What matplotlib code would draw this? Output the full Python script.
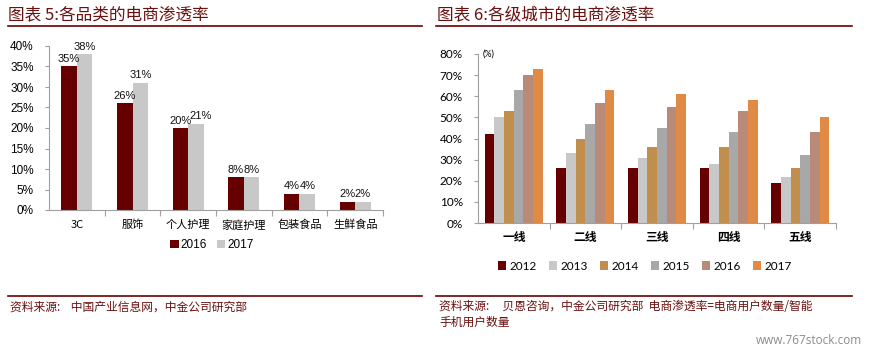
import matplotlib
matplotlib.use("Agg")
import matplotlib.pyplot as plt
from matplotlib.lines import Line2D
from matplotlib.patches import Patch
import numpy as np

plt.rcParams['font.family'] = ['Liberation Sans', 'Noto Sans CJK SC', 'DejaVu Sans']

# ---- Data: left chart ----
cat_left = ['3C', '服饰', '个人护理', '家庭护理', '包装食品', '生鲜食品']
years_left = ['2016', '2017']
v2016 = [35, 26, 20, 8, 4, 2]
v2017 = [38, 31, 21, 8, 4, 2]
yticks_left = [0, 5, 10, 15, 20, 25, 30, 35, 40]

# ---- Data: right chart ----
cat_right = ['一线', '二线', '三线', '四线', '五线']
years_right = ['2012', '2013', '2014', '2015', '2016', '2017']
v2012 = [42, 26, 26, 26, 19]
v2013 = [50, 33, 31, 28, 22]
v2014 = [53, 40, 36, 36, 26]
v2015 = [63, 47, 45, 43, 32]
v2016r = [70, 57, 55, 53, 43]
v2017r = [73, 63, 61, 58, 50]
yticks_right = [0, 10, 20, 30, 40, 50, 60, 70, 80]

W, H = 869, 351
fig = plt.figure(figsize=(W / 100, H / 100), dpi=100)

def fx(px):
    return px / W

def fy(py):
    return 1 - py / H

title_color = '#6b1010'
rule_color = '#6b0000'
cjk = ['Noto Sans CJK SC', 'DejaVu Sans']

# titles and rules
fig.text(fx(8), fy(15), '图表 5:各品类的电商渗透率', fontsize=12, color=title_color,
         family=cjk, va='center', ha='left', style='italic')
fig.text(fx(437), fy(15), '图表 6:各级城市的电商渗透率', fontsize=12, color=title_color,
         family=cjk, va='center', ha='left', style='italic')
for x0, x1 in [(8, 422), (436, 852)]:
    fig.add_artist(Line2D([fx(x0), fx(x1)], [fy(26), fy(26)], color=rule_color, lw=1.2))
    fig.add_artist(Line2D([fx(x0), fx(x1)], [fy(296), fy(296)], color=rule_color, lw=1.2))

fig.text(fx(10), fy(307), '资料来源:    中国产业信息网，中金公司研究部', fontsize=8.5,
         color=title_color, family=cjk, va='center', ha='left', style='italic')
fig.text(fx(439), fy(307), '资料来源:     贝恩咨询，中金公司研究部  电商渗透率=电商用户数量/智能',
         fontsize=8.5, color=title_color, family=cjk, va='center', ha='left', style='italic')
fig.text(fx(439), fy(322), '手机用户数量', fontsize=8.5, color=title_color, family=cjk,
         va='center', ha='left', style='italic')
fig.text(fx(862), fy(341), 'www.767stock.com', fontsize=8.5, color='#8a8a8a',
         family=['Open Sans', 'DejaVu Sans'], va='center', ha='right')

spine_color = '#a0a0a0'

# ---- Left chart ----
axL = fig.add_axes([fx(49), fy(210), fx(383) - fx(49), fy(46) - fy(210)])
x = np.arange(len(cat_left))
bw = 0.28
cL = ['#660000', '#c8c8c8']
for k, (vals, col, lab) in enumerate(zip([v2016, v2017], cL, years_left)):
    xs = x + (k - 0.5) * bw
    axL.bar(xs, vals, width=bw, color=col, label=lab, zorder=2)
    for i, (xi, v) in enumerate(zip(xs, vals)):
        dx = 0.0
        # nudge the right label when the two labels sit at nearly the same height
        if k == 1 and 0 < abs(v2017[i] - v2016[i]) < 3:
            dx = 0.09
        axL.text(xi + dx, v + 0.6, f'{v}%', ha='center', va='bottom', fontsize=8,
                 color='#111111')
axL.set_xlim(-0.5, len(cat_left) - 0.5)
axL.set_ylim(0, 40)
axL.set_yticks(yticks_left)
axL.set_yticklabels([f'{t}%' for t in yticks_left], fontsize=8.5)
axL.set_xticks(np.arange(0.5, len(cat_left), 1.0))
axL.set_xticklabels([])
axL.set_xticks(x, minor=True)
axL.set_xticklabels(cat_left, minor=True, fontsize=8, family=cjk)
axL.tick_params(axis='x', which='minor', length=0, pad=7)
axL.tick_params(axis='x', which='major', length=4, color=spine_color, direction='out')
axL.tick_params(axis='y', length=3, color=spine_color, pad=8)
for s in ['top', 'right']:
    axL.spines[s].set_visible(False)
for s in ['left', 'bottom']:
    axL.spines[s].set_color(spine_color)

handlesL = [Patch(facecolor=c, edgecolor='none') for c in cL]
fig.legend(handlesL, years_left, loc='center', bbox_to_anchor=(fx(212), fy(245)), ncol=2,
           frameon=False, fontsize=8.5, handlelength=0.7, handleheight=0.7,
           handletextpad=0.2, columnspacing=0.8)

# ---- Right chart ----
axR = fig.add_axes([fx(478), fy(223), fx(836) - fx(478), fy(54) - fy(223)])
xr = np.arange(len(cat_right))
bwr = 0.135
cR = ['#660000', '#c8c8c8', '#c08f4e', '#a8a8a8', '#b98a78', '#df8a45']
series = [v2012, v2013, v2014, v2015, v2016r, v2017r]
for k, (vals, col, lab) in enumerate(zip(series, cR, years_right)):
    axR.bar(xr + (k - 2.5) * bwr, vals, width=bwr, color=col, label=lab, zorder=2)
axR.set_xlim(-0.5, len(cat_right) - 0.5)
axR.set_ylim(0, 80)
rfont = ['Lato', 'DejaVu Sans']
axR.set_yticks(yticks_right)
axR.set_yticklabels([f'{t}%' for t in yticks_right], fontsize=8.5, family=rfont)
axR.set_xticks(np.arange(0.5, len(cat_right), 1.0))
axR.set_xticklabels([])
axR.set_xticks(xr, minor=True)
axR.set_xticklabels(cat_right, minor=True, fontsize=8.5, family=cjk, fontweight='bold')
axR.tick_params(axis='x', which='minor', length=0, pad=6)
axR.tick_params(axis='x', which='major', length=4, color=spine_color, direction='out')
axR.tick_params(axis='y', length=3, color=spine_color, pad=8)
for s in ['top', 'right']:
    axR.spines[s].set_visible(False)
for s in ['left', 'bottom']:
    axR.spines[s].set_color(spine_color)
axR.text(0.012, 1.0, '(%)', transform=axR.transAxes, fontsize=6.5, ha='left', va='center',
         family=rfont)

handlesR = [Patch(facecolor=c, edgecolor='none') for c in cR]
fig.legend(handlesR, years_right, loc='center', bbox_to_anchor=(fx(645), fy(266)), ncol=6,
           frameon=False, fontsize=8.5, handlelength=0.7, handleheight=0.7,
           handletextpad=0.3, columnspacing=1.0, prop={'family': rfont, 'size': 8.5})

fig.savefig('out.png', dpi=100)
